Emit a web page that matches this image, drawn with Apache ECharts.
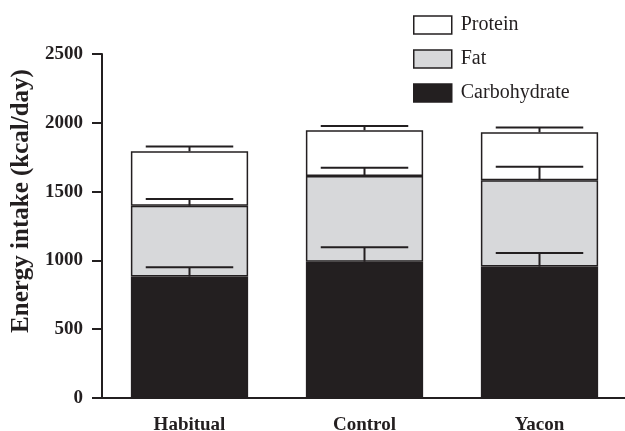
<!DOCTYPE html>
<html><head><meta charset="utf-8">
<script src="https://cdn.jsdelivr.net/npm/echarts@6/dist/echarts.min.js"></script>
<style>html,body{margin:0;padding:0;background:#fff}#c{width:625px;height:431px}</style>
</head><body><div id="c"></div>
<script>
const categories = ['Habitual', 'Control', 'Yacon'];
const carbohydrate = [883, 990, 955];
const fat = [515, 624, 628];
const protein = [395, 332, 348];
const carbSem = [68, 106, 98];
const fatSem = [49, 60, 98];
const proteinSem = [34, 31, 34];
const yTicks = [0, 500, 1000, 1500, 2000, 2500];

const ink = '#231f20';
const font = 'Liberation Serif';

function errData(bases, sems) {
  return categories.map((c, i) => [i, bases[i], bases[i] + sems[i]]);
}
const carbTop = carbohydrate.slice();
const fatTop = carbohydrate.map((v, i) => v + fat[i]);
const protTop = fatTop.map((v, i) => v + protein[i]);

function renderErr(params, api) {
  const x = api.value(0);
  const p0 = api.coord([x, api.value(1)]);
  const p1 = api.coord([x, api.value(2)]);
  const half = api.size([1, 0])[0] * 0.25;
  const st = { stroke: ink, lineWidth: 2 };
  return {
    type: 'group',
    children: [
      { type: 'line', shape: { x1: p0[0], y1: p0[1], x2: p1[0], y2: p1[1] }, style: st },
      { type: 'line', shape: { x1: p1[0] - half, y1: p1[1], x2: p1[0] + half, y2: p1[1] }, style: st }
    ]
  };
}

const chart = echarts.init(document.getElementById('c'), null, { renderer: 'canvas' });
const barStyle = (color) => ({ color: color, borderColor: ink, borderWidth: 1.5 });
chart.setOption({
  animation: false,
  backgroundColor: '#fff',
  grid: { left: 102, right: -2, top: 54, bottom: 33, containLabel: false, outerBoundsMode: 'none' },
  legend: {
    orient: 'vertical',
    left: 408, top: 10,
    itemWidth: 38, itemHeight: 18, itemGap: 14,
    icon: 'rect',
    textStyle: { fontFamily: font, fontSize: 20, lineHeight: 18, color: ink, padding: [0, 0, 0, 4] },
    data: [
      { name: 'Protein', itemStyle: { color: '#fff', borderColor: ink, borderWidth: 1.5 } },
      { name: 'Fat', itemStyle: { color: '#d7d8da', borderColor: ink, borderWidth: 1.5 } },
      { name: 'Carbohydrate', itemStyle: { color: ink, borderColor: ink, borderWidth: 1.5 } }
    ]
  },
  xAxis: {
    type: 'category', data: categories,
    axisLine: { lineStyle: { color: ink, width: 2 } },
    axisTick: { alignWithLabel: true, length: 9, lineStyle: { color: ink, width: 2 } },
    axisLabel: { fontFamily: font, fontWeight: 'bold', fontSize: 19, color: ink, margin: 18 }
  },
  yAxis: {
    type: 'value', min: 0, max: 2500, interval: 500,
    name: 'Energy intake (kcal/day)', nameLocation: 'middle', nameGap: 67,
    nameTextStyle: { fontFamily: font, fontWeight: 'bold', fontSize: 25, color: ink, padding: [0, 0, 0, 50] },
    axisLine: { show: true, lineStyle: { color: ink, width: 2 } },
    axisTick: { show: true, length: 10, lineStyle: { color: ink, width: 2 } },
    splitLine: { show: false },
    axisLabel: { fontFamily: font, fontWeight: 'bold', fontSize: 19, color: ink, margin: 19,
      formatter: (v) => yTicks.includes(v) ? String(v) : '' }
  },
  series: [
    { name: 'Carbohydrate', type: 'bar', stack: 'e', barWidth: '67%', data: carbohydrate, itemStyle: barStyle(ink) },
    { name: 'Fat', type: 'bar', stack: 'e', barWidth: '67%', data: fat, itemStyle: barStyle('#d7d8da') },
    { name: 'Protein', type: 'bar', stack: 'e', barWidth: '67%', data: protein, itemStyle: barStyle('#fff') },
    { type: 'custom', renderItem: renderErr, data: errData(carbTop, carbSem), z: 5 },
    { type: 'custom', renderItem: renderErr, data: errData(fatTop, fatSem), z: 5 },
    { type: 'custom', renderItem: renderErr, data: errData(protTop, proteinSem), z: 5 }
  ]
});
</script></body></html>
